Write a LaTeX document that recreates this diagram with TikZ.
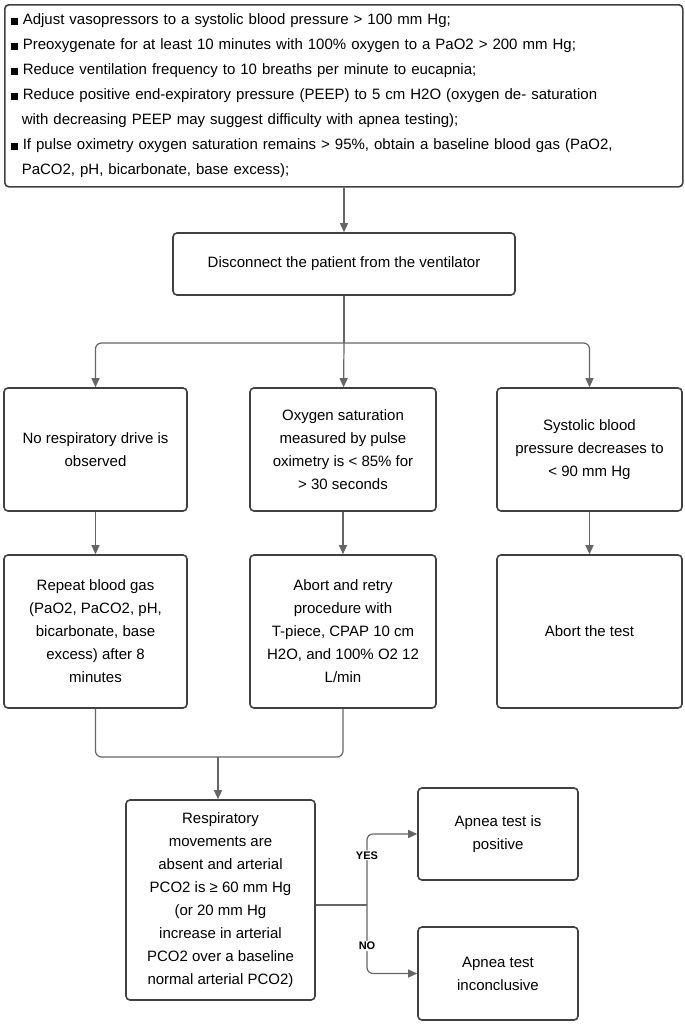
\documentclass[tikz,border=0pt]{standalone}
\usepackage{fontspec}
\setmainfont{Liberation Sans}
\usetikzlibrary{arrows.meta}
\begin{document}
\begin{tikzpicture}[x=1pt,y=-1pt,
  box/.style={draw=black!75,line width=1.6pt,rounded corners=4pt,align=center,inner sep=2pt,font=\fontsize{15}{23}\selectfont},
  line/.style={draw=black!60,line width=1.2pt,rounded corners=6pt},
  arr/.style={line,-{Triangle[length=9pt,width=8pt]}},
  lab/.style={font=\bfseries\fontsize{11}{13}\selectfont,fill=white,inner sep=1pt}]
\useasboundingbox (0,0) rectangle (685,1026);
\def\bx#1#2#3#4#5#6{\node[box,minimum width=#4-#2,minimum height=#5-#3] (#1) at ({(#2+#4)/2},{(#3+#5)/2}) {#6};}
\node[box,minimum width=678,minimum height=182,align=left,text width=666pt,anchor=north west,font=\fontsize{15}{25}\selectfont] (top) at (4,4) {%
\rule{7pt}{7pt} Adjust vasopressors to a systolic blood pressure > 100 mm Hg;\\
\rule{7pt}{7pt} Preoxygenate for at least 10 minutes with 100\% oxygen to a PaO2 > 200 mm Hg;\\
\rule{7pt}{7pt} Reduce ventilation frequency to 10 breaths per minute to eucapnia;\\
\rule{7pt}{7pt} Reduce positive end-expiratory pressure (PEEP) to 5 cm H2O (oxygen de- saturation\\
\hspace*{11pt}with decreasing PEEP may suggest difficulty with apnea testing);\\
\rule{7pt}{7pt} If pulse oximetry oxygen saturation remains > 95\%, obtain a baseline blood gas (PaO2,\\
\hspace*{11pt}PaCO2, pH, bicarbonate, base excess);};
\bx{disc}{173}{233}{515}{295}{Disconnect the patient from the ventilator}
\bx{a1}{4}{388}{187}{511}{No respiratory drive is\\observed}
\bx{b1}{250}{388}{436}{511}{Oxygen saturation\\measured by pulse\\oximetry is < 85\% for\\> 30 seconds}
\bx{c1}{497}{388}{682}{511}{Systolic blood\\pressure decreases to\\< 90 mm Hg}
\bx{a2}{4}{555}{187}{708}{Repeat blood gas\\(PaO2, PaCO2, pH,\\bicarbonate, base\\excess) after 8\\minutes}
\bx{b2}{250}{555}{436}{708}{Abort and retry\\procedure with\\T-piece, CPAP 10 cm\\H2O, and 100\% O2 12\\L/min}
\bx{c2}{497}{555}{682}{708}{Abort the test}
\bx{d}{126}{800}{315}{1000}{Respiratory\\movements are\\absent and arterial\\PCO2 is ≥ 60 mm Hg\\(or 20 mm Hg\\increase in arterial\\PCO2 over a baseline\\normal arterial PCO2)}
\bx{yes}{418}{788}{578}{880}{Apnea test is\\positive}
\bx{no}{418}{927}{578}{1020}{Apnea test\\inconclusive}
\coordinate (s) at (344,343);
\coordinate (m) at (218,757);
\coordinate (j) at (367,905);
\draw[arr] (top.south -| disc) -- (disc);
\draw[line] (disc) -- (s);
\draw[arr] (s) -| (a1);
\draw[arr] (s) -- (b1);
\draw[arr] (s) -| (c1);
\draw[arr] (a1) -- (a2);
\draw[arr] (b1) -- (b2);
\draw[arr] (c1) -- (c2);
\draw[line] (a2.south) |- (m);
\draw[line] (b2.south) |- (m);
\draw[arr] (m) -- (m |- d.north);
\draw[line] (d.east |- j) -- (j);
\draw[arr] (j) |- node[lab,pos=0.35]{YES} (yes.west);
\draw[arr] (j) |- node[lab,pos=0.3]{NO} (no.west);
\end{tikzpicture}
\end{document}
